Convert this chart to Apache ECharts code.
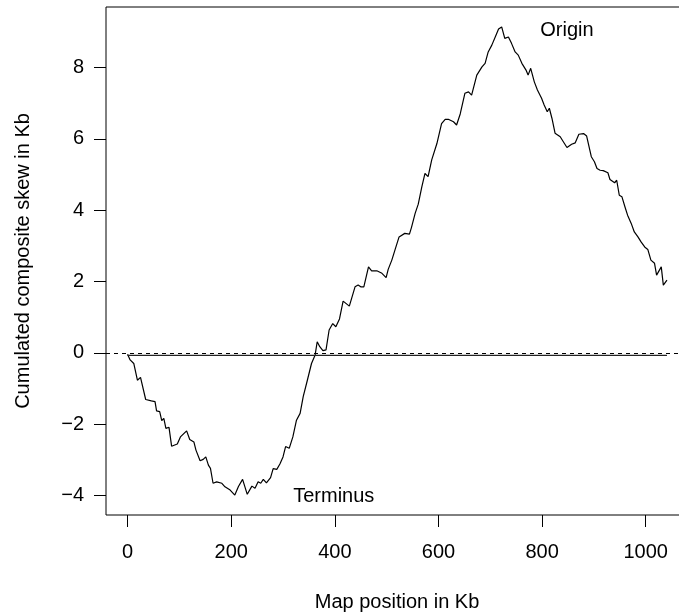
<!DOCTYPE html>
<html>
<head>
<meta charset="utf-8">
<script src="https://cdn.jsdelivr.net/npm/echarts@6/dist/echarts.min.js"></script>
<style>
html,body{margin:0;padding:0;background:#fff;}
#chart{width:679px;height:613px;}
</style>
</head>
<body>
<div id="chart"></div>
<script>
// Map position (Kb)
const positions = [0,2,5,12,19,25,35,46,53,56,62,66,70,74,80,85,96,102,114,120,128,132,140,146,151,156,160,165,172,182,188,198,207,214,222,231,240,246,252,257,262,268,276,281,288,294,300,305,312,319,326,333,339,347,355,362,366,371,377,383,389,396,402,409,416,428,439,445,450,456,465,471,481,490,499,503,510,516,524,535,544,548,555,561,568,574,580,587,597,606,613,619,629,635,642,651,658,664,674,684,690,696,703,711,716,722,728,735,741,748,754,761,769,773,778,785,791,799,804,810,814,819,825,835,841,848,857,864,871,880,886,895,901,906,912,918,927,931,940,944,949,954,960,965,972,978,985,991,998,1004,1010,1017,1021,1030,1034,1041];
// Cumulated composite skew (Kb)
const skew = [-0.04,-0.08,-0.2,-0.3,-0.77,-0.69,-1.31,-1.35,-1.37,-1.63,-1.65,-1.9,-1.84,-2.12,-2.09,-2.62,-2.56,-2.36,-2.19,-2.43,-2.5,-2.73,-3.03,-2.99,-2.92,-3.15,-3.24,-3.66,-3.62,-3.66,-3.76,-3.85,-3.99,-3.75,-3.55,-3.97,-3.74,-3.80,-3.62,-3.66,-3.55,-3.65,-3.50,-3.25,-3.27,-3.12,-2.92,-2.63,-2.68,-2.36,-1.89,-1.70,-1.23,-0.77,-0.30,-0.06,0.31,0.17,0.06,0.08,0.64,0.82,0.73,0.95,1.45,1.31,1.85,1.90,1.85,1.85,2.41,2.30,2.30,2.24,2.11,2.34,2.60,2.88,3.25,3.35,3.33,3.52,3.91,4.17,4.66,5.03,4.94,5.41,5.87,6.43,6.55,6.55,6.48,6.39,6.70,7.28,7.32,7.23,7.79,8.02,8.12,8.44,8.63,8.91,9.08,9.14,8.82,8.86,8.68,8.44,8.35,8.12,7.93,7.79,7.98,7.60,7.37,7.14,6.95,6.76,6.86,6.58,6.16,6.06,5.92,5.76,5.85,5.89,6.13,6.15,6.08,5.50,5.36,5.17,5.12,5.11,5.05,4.86,4.77,4.84,4.42,4.38,4.09,3.86,3.63,3.39,3.25,3.11,2.97,2.90,2.60,2.51,2.18,2.41,1.90,2.04];
// solid baseline segment
const baseX = [0, 1041];
const baseY = [-0.07, -0.07];
// reference (dashed) level
const refLevel = 0;
// tick labels
const xTicks = [0, 200, 400, 600, 800, 1000];
const yTicks = [-4, -2, 0, 2, 4, 6, 8];
// annotations
const annoNames = ['Origin', 'Terminus'];
const annoX = [848, 398];
const annoY = [9.03, -4.02];

const FONT = 'Liberation Sans, Arial, sans-serif';
const chart = echarts.init(document.getElementById('chart'), null, {renderer: 'canvas'});
const option = {
  animation: false,
  backgroundColor: '#fff',
  grid: {left: 106, top: 7, width: 582, height: 508, show: true, borderColor: '#000', borderWidth: 1,
    backgroundColor: 'transparent', containLabel: false, outerBoundsMode: 'none'},
  xAxis: {
    type: 'value', min: -41.6, max: 1081.6,
    name: 'Map position in Kb', nameLocation: 'middle', nameGap: 77,
    nameTextStyle: {fontFamily: FONT, fontSize: 20, color: '#000'},
    axisLine: {show: false, onZero: false},
    splitLine: {show: false},
    axisTick: {show: true, length: 12, customValues: xTicks, lineStyle: {color: '#000', width: 1}},
    axisLabel: {customValues: xTicks, margin: 27, fontFamily: FONT, fontSize: 20, color: '#000',
      formatter: v => String(v)}
  },
  yAxis: {
    type: 'value', min: -4.55, max: 9.70,
    name: 'Cumulated composite skew in Kb', nameLocation: 'middle', nameGap: 73,
    nameTextStyle: {fontFamily: FONT, fontSize: 20, color: '#000'},
    axisLine: {show: false, onZero: false},
    splitLine: {show: false},
    axisTick: {show: true, length: 12, customValues: yTicks, lineStyle: {color: '#000', width: 1}},
    axisLabel: {customValues: yTicks, margin: 22, fontFamily: FONT, fontSize: 20, color: '#000',
      formatter: v => String(v).replace('-', '\u2212')}
  },
  series: [
    {
      type: 'line', data: positions.map((x, i) => [x, skew[i]]),
      symbol: 'none', lineStyle: {color: '#000', width: 1.2},
      markLine: {silent: true, symbol: 'none', label: {show: false},
        lineStyle: {color: '#000', type: [4, 4], width: 1},
        data: [{yAxis: refLevel}]}
    },
    {
      type: 'line', data: baseX.map((x, i) => [x, baseY[i]]),
      symbol: 'none', lineStyle: {color: '#222', width: 1.2}
    },
    {
      type: 'scatter', symbolSize: 0, itemStyle: {opacity: 1},
      data: annoNames.map((n, i) => ({name: n, value: [annoX[i], annoY[i]]})),
      label: {show: true, position: 'inside', formatter: '{b}', fontFamily: FONT, fontSize: 20, color: '#000'}
    }
  ]
};
chart.setOption(option);
</script>
</body>
</html>
